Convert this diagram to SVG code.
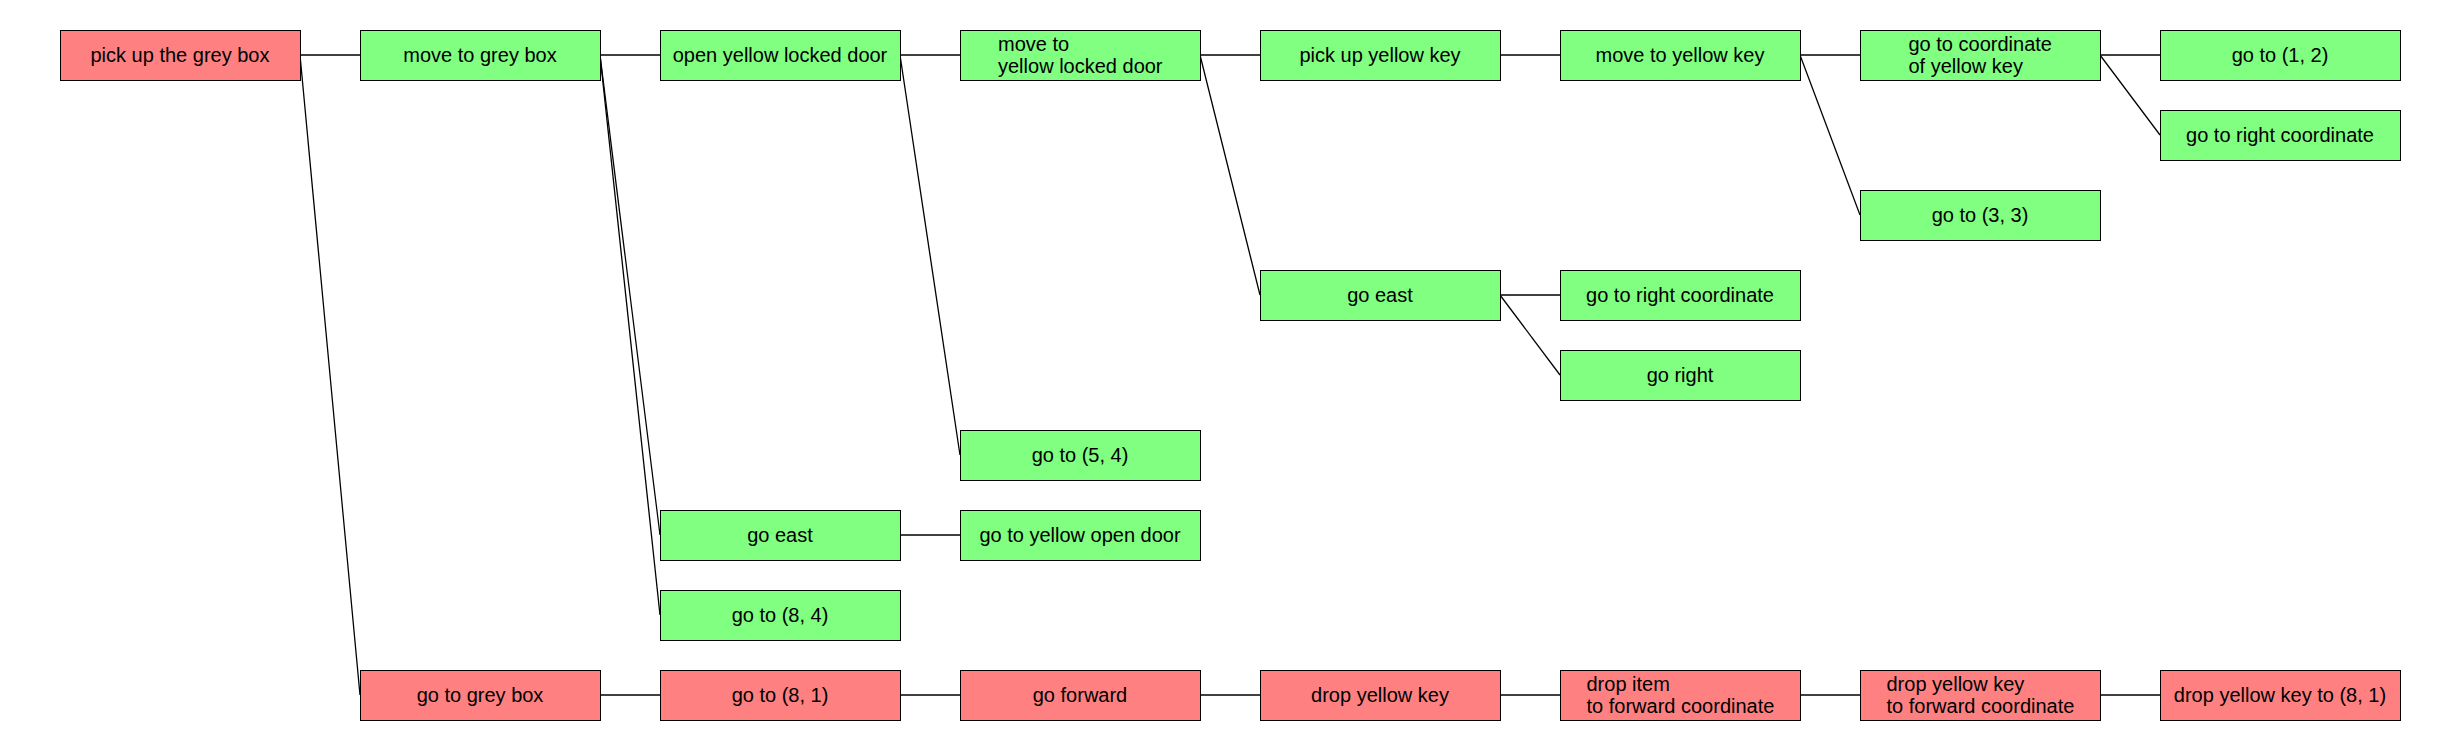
<svg xmlns="http://www.w3.org/2000/svg" width="2460" height="750" viewBox="0 0 2460 750">
<style>
.n rect{stroke:#000;stroke-width:1}
.r rect{fill:#FF8080}
.g rect{fill:#80FF80}
.n text{font-family:"Liberation Sans",Arial,sans-serif;font-size:20px;fill:#000}
.c{text-anchor:middle}
#connectors line{stroke:#000;stroke-width:1.3;fill:none}
</style>
<rect width="2460" height="750" fill="#fff"/>
<g id="connectors">
<line x1="300" y1="55" x2="360" y2="55"/>
<line x1="300" y1="55" x2="360" y2="695"/>
<line x1="600" y1="55" x2="660" y2="55"/>
<line x1="600" y1="55" x2="660" y2="535"/>
<line x1="600" y1="55" x2="660" y2="615"/>
<line x1="900" y1="55" x2="960" y2="55"/>
<line x1="900" y1="55" x2="960" y2="455"/>
<line x1="1200" y1="55" x2="1260" y2="55"/>
<line x1="1200" y1="55" x2="1260" y2="295"/>
<line x1="1500" y1="55" x2="1560" y2="55"/>
<line x1="1800" y1="55" x2="1860" y2="55"/>
<line x1="1800" y1="55" x2="1860" y2="215"/>
<line x1="2100" y1="55" x2="2160" y2="55"/>
<line x1="2100" y1="55" x2="2160" y2="135"/>
<line x1="1500" y1="295" x2="1560" y2="295"/>
<line x1="1500" y1="295" x2="1560" y2="375"/>
<line x1="900" y1="535" x2="960" y2="535"/>
<line x1="600" y1="695" x2="660" y2="695"/>
<line x1="900" y1="695" x2="960" y2="695"/>
<line x1="1200" y1="695" x2="1260" y2="695"/>
<line x1="1500" y1="695" x2="1560" y2="695"/>
<line x1="1800" y1="695" x2="1860" y2="695"/>
<line x1="2100" y1="695" x2="2160" y2="695"/>
</g>
<g id="n_pick_grey_box" class="n r"><rect x="60.5" y="30.5" width="240" height="50"/><text class="c" x="180" y="62">pick up the grey box</text></g>
<g id="n_move_grey_box" class="n g"><rect x="360.5" y="30.5" width="240" height="50"/><text class="c" x="480" y="62">move to grey box</text></g>
<g id="n_open_door" class="n g"><rect x="660.5" y="30.5" width="240" height="50"/><text class="c" x="780" y="62">open yellow locked door</text></g>
<g id="n_move_door" class="n g"><rect x="960.5" y="30.5" width="240" height="50"/><text x="998" y="51">move to<tspan x="998" y="73">yellow locked door</tspan></text></g>
<g id="n_pick_key" class="n g"><rect x="1260.5" y="30.5" width="240" height="50"/><text class="c" x="1380" y="62">pick up yellow key</text></g>
<g id="n_move_key" class="n g"><rect x="1560.5" y="30.5" width="240" height="50"/><text class="c" x="1680" y="62">move to yellow key</text></g>
<g id="n_goto_coord_key" class="n g"><rect x="1860.5" y="30.5" width="240" height="50"/><text x="1908.5" y="51">go to coordinate<tspan x="1908.5" y="73">of yellow key</tspan></text></g>
<g id="n_goto_1_2" class="n g"><rect x="2160.5" y="30.5" width="240" height="50"/><text class="c" x="2280" y="62">go to (1, 2)</text></g>
<g id="n_goto_right_coord_a" class="n g"><rect x="2160.5" y="110.5" width="240" height="50"/><text class="c" x="2280" y="142">go to right coordinate</text></g>
<g id="n_goto_3_3" class="n g"><rect x="1860.5" y="190.5" width="240" height="50"/><text class="c" x="1980" y="222">go to (3, 3)</text></g>
<g id="n_go_east_a" class="n g"><rect x="1260.5" y="270.5" width="240" height="50"/><text class="c" x="1380" y="302">go east</text></g>
<g id="n_goto_right_coord_b" class="n g"><rect x="1560.5" y="270.5" width="240" height="50"/><text class="c" x="1680" y="302">go to right coordinate</text></g>
<g id="n_go_right" class="n g"><rect x="1560.5" y="350.5" width="240" height="50"/><text class="c" x="1680" y="382">go right</text></g>
<g id="n_goto_5_4" class="n g"><rect x="960.5" y="430.5" width="240" height="50"/><text class="c" x="1080" y="462">go to (5, 4)</text></g>
<g id="n_go_east_b" class="n g"><rect x="660.5" y="510.5" width="240" height="50"/><text class="c" x="780" y="542">go east</text></g>
<g id="n_goto_open_door" class="n g"><rect x="960.5" y="510.5" width="240" height="50"/><text class="c" x="1080" y="542">go to yellow open door</text></g>
<g id="n_goto_8_4" class="n g"><rect x="660.5" y="590.5" width="240" height="50"/><text class="c" x="780" y="622">go to (8, 4)</text></g>
<g id="n_goto_grey_box" class="n r"><rect x="360.5" y="670.5" width="240" height="50"/><text class="c" x="480" y="702">go to grey box</text></g>
<g id="n_goto_8_1" class="n r"><rect x="660.5" y="670.5" width="240" height="50"/><text class="c" x="780" y="702">go to (8, 1)</text></g>
<g id="n_go_forward" class="n r"><rect x="960.5" y="670.5" width="240" height="50"/><text class="c" x="1080" y="702">go forward</text></g>
<g id="n_drop_key" class="n r"><rect x="1260.5" y="670.5" width="240" height="50"/><text class="c" x="1380" y="702">drop yellow key</text></g>
<g id="n_drop_item_fwd" class="n r"><rect x="1560.5" y="670.5" width="240" height="50"/><text x="1586.5" y="691">drop item<tspan x="1586.5" y="713">to forward coordinate</tspan></text></g>
<g id="n_drop_key_fwd" class="n r"><rect x="1860.5" y="670.5" width="240" height="50"/><text x="1886.5" y="691">drop yellow key<tspan x="1886.5" y="713">to forward coordinate</tspan></text></g>
<g id="n_drop_key_8_1" class="n r"><rect x="2160.5" y="670.5" width="240" height="50"/><text class="c" x="2280" y="702">drop yellow key to (8, 1)</text></g>
</svg>
